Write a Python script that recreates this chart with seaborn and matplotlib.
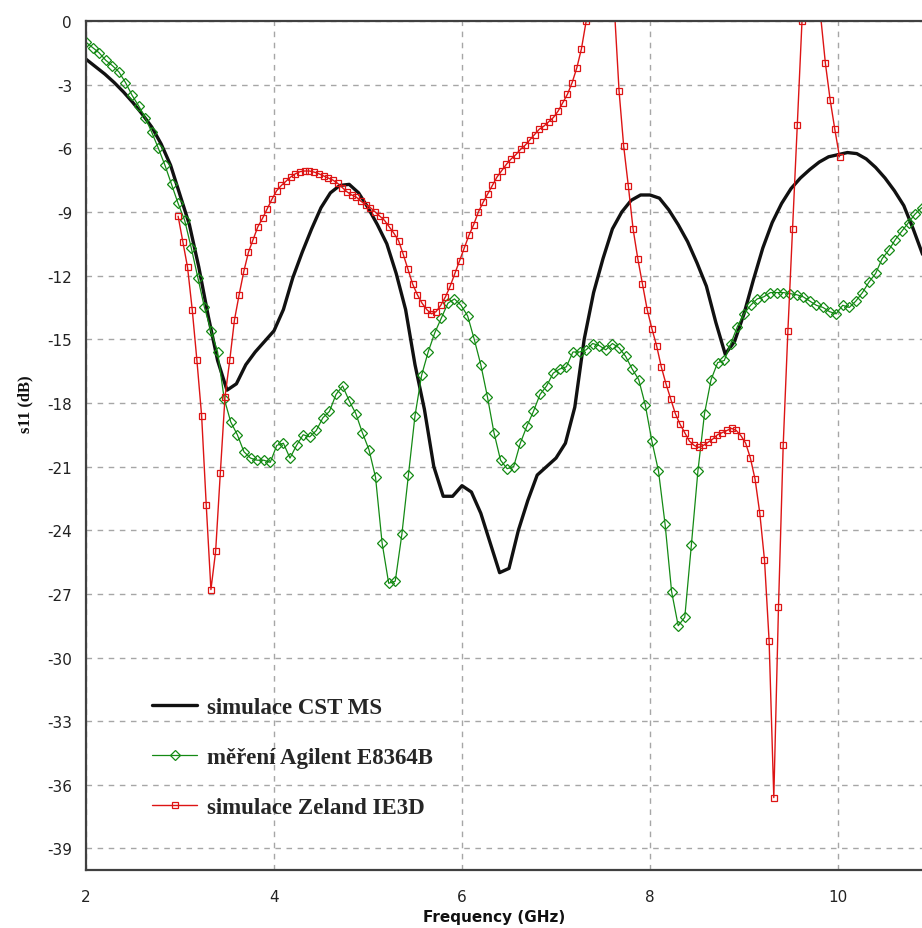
import numpy as np
import pandas as pd
import matplotlib
matplotlib.use("Agg")
import matplotlib.pyplot as plt
import seaborn as sns

# ---- data -------------------------------------------------------------
# CST MS simulation, sampled every 0.1 GHz
freq_cst = np.round(np.arange(2.0, 10.95, 0.1), 2)
s11_cst = [
    -1.8, -2.15, -2.5, -2.9, -3.35, -3.85, -4.4, -5.0, -5.8, -6.8,
    -8.2, -9.6, -11.6, -13.9, -16.0, -17.4, -17.1, -16.2, -15.6, -15.1,
    -14.6, -13.6, -12.1, -10.9, -9.8, -8.8, -8.1, -7.75, -7.7, -8.1,
    -8.8, -9.6, -10.5, -11.9, -13.6, -16.2, -18.3, -21.0, -22.4, -22.4,
    -21.9, -22.2, -23.2, -24.6, -26.0, -25.8, -24.0, -22.6, -21.4, -21.0,
    -20.6, -19.9, -18.2, -15.0, -12.8, -11.2, -9.8, -9.0, -8.45, -8.2,
    -8.2, -8.35, -8.9, -9.6, -10.4, -11.4, -12.5, -14.2, -15.7, -15.1,
    -13.8, -12.2, -10.7, -9.5, -8.6, -7.9, -7.4, -7.0, -6.65, -6.4,
    -6.3, -6.2, -6.25, -6.5, -6.9, -7.4, -8.0, -8.7, -9.8, -11.0,
]

# Agilent E8364B measurement, 0.07 GHz step
freq_meas = np.round(2.0 + 0.07 * np.arange(128), 3)
s11_meas = [
    -1.0, -1.25, -1.5, -1.85, -2.1, -2.4, -2.9, -3.5, -4.0, -4.55,
    -5.25, -6.0, -6.8, -7.7, -8.6, -9.4, -10.7, -12.1, -13.5, -14.6,
    -15.6, -17.8, -18.9, -19.5, -20.3, -20.6, -20.7, -20.7, -20.8, -20.0,
    -19.9, -20.6, -20.0, -19.5, -19.6, -19.3, -18.7, -18.4, -17.6, -17.2,
    -17.9, -18.5, -19.4, -20.2, -21.5, -24.6, -26.5, -26.4, -24.2, -21.4,
    -18.6, -16.7, -15.6, -14.7, -14.0, -13.3, -13.1, -13.4, -13.9, -15.0,
    -16.2, -17.7, -19.4, -20.7, -21.1, -21.0, -19.9, -19.1, -18.4, -17.6,
    -17.2, -16.6, -16.4, -16.3, -15.6, -15.6, -15.5, -15.2, -15.3, -15.5,
    -15.2, -15.4, -15.8, -16.4, -16.9, -18.1, -19.8, -21.2, -23.7, -26.9,
    -28.5, -28.1, -24.7, -21.2, -18.5, -16.9, -16.1, -16.0, -15.2, -14.4,
    -13.8, -13.4, -13.1, -13.0, -12.8, -12.8, -12.8, -12.85, -12.9, -13.0,
    -13.2, -13.4, -13.5, -13.7, -13.8, -13.4, -13.5, -13.2, -12.8, -12.3,
    -11.9, -11.2, -10.8, -10.3, -9.9, -9.5, -9.1, -8.8,
]

# Zeland IE3D simulation, ~0.05 GHz step
freq_ie3d = np.round(2.98 + 0.0499 * np.arange(142), 3)
s11_ie3d = [
    -9.2, -10.4, -11.6, -13.6, -16.0, -18.6, -22.8, -26.8, -25.0, -21.3,
    -17.7, -16.0, -14.1, -12.9, -11.8, -10.9, -10.3, -9.7, -9.3, -8.85,
    -8.4, -8.0, -7.75, -7.55, -7.35, -7.2, -7.1, -7.07, -7.07, -7.12,
    -7.2, -7.3, -7.4, -7.5, -7.65, -7.85, -8.05, -8.2, -8.3, -8.5,
    -8.65, -8.8, -9.0, -9.2, -9.4, -9.7, -10.0, -10.35, -11.0, -11.7,
    -12.4, -12.9, -13.3, -13.6, -13.8, -13.7, -13.4, -13.0, -12.5, -11.9,
    -11.3, -10.7, -10.1, -9.6, -9.0, -8.55, -8.15, -7.75, -7.35, -7.05,
    -6.75, -6.5, -6.3, -6.05, -5.85, -5.6, -5.35, -5.1, -4.95, -4.75,
    -4.55, -4.25, -3.85, -3.45, -2.9, -2.2, -1.3, 0.0, 1.6, 3.0,
    3.6, 3.2, 1.8, 0.6, -3.3, -5.9, -7.8, -9.8, -11.2, -12.4,
    -13.6, -14.5, -15.3, -16.3, -17.1, -17.8, -18.5, -19.0, -19.4, -19.8,
    -20.0, -20.1, -20.0, -19.85, -19.7, -19.5, -19.4, -19.3, -19.2, -19.3,
    -19.55, -19.9, -20.6, -21.6, -23.2, -25.4, -29.2, -36.6, -27.6, -20.0,
    -14.6, -9.8, -4.9, 0.0, 2.5, 3.8, 2.8, 0.2, -2.0, -3.7,
    -5.1, -6.4,
]

x_ticks = [2, 4, 6, 8, 10]
x_tick_labels = ["2", "4", "6", "8", "10"]
y_ticks = list(range(0, -40, -3))
y_tick_labels = [str(v) for v in y_ticks]

labels = ["simulace CST MS", "měření Agilent E8364B", "simulace Zeland IE3D"]

# ---- figure -----------------------------------------------------------
sns.set_theme(style="white")
plt.rcParams["font.family"] = ["DejaVu Sans"]
plt.rcParams["axes.unicode_minus"] = False

W, H = 922, 929
fig = plt.figure(figsize=(W / 100, H / 100), dpi=100)
fig.patch.set_facecolor("white")
left_px, right_px, top_px, bottom_px = 86, 922, 22, 870.7
ax = fig.add_axes([left_px / W, 1 - bottom_px / H,
                   (right_px - left_px) / W, (bottom_px - top_px) / H])
ax.set_facecolor("white")

df_cst = pd.DataFrame({"f": freq_cst, "s11": s11_cst})
df_meas = pd.DataFrame({"f": freq_meas, "s11": s11_meas})
df_ie3d = pd.DataFrame({"f": freq_ie3d, "s11": s11_ie3d})

sns.lineplot(data=df_cst, x="f", y="s11", ax=ax, color="#111111",
             linewidth=2.4, label=labels[0], errorbar=None, sort=False)
sns.lineplot(data=df_meas, x="f", y="s11", ax=ax, color="#148a14",
             linewidth=0.9, marker="D", markersize=5.4,
             markerfacecolor="none", markeredgecolor="#148a14",
             markeredgewidth=0.9, label=labels[1], errorbar=None, sort=False)
sns.lineplot(data=df_ie3d, x="f", y="s11", ax=ax, color="#dd1414",
             linewidth=1.0, marker="s", markersize=5.0,
             markerfacecolor="none", markeredgecolor="#dd1414",
             markeredgewidth=0.9, label=labels[2], errorbar=None, sort=False)

ax.set_xlim(2, 2 + (right_px - left_px) / 94.0)
ax.set_ylim(-40, 0)
ax.set_xticks(x_ticks, x_tick_labels)
ax.set_yticks(y_ticks, y_tick_labels)
ax.tick_params(axis="both", length=0, labelsize=11, labelcolor="#222222")
ax.tick_params(axis="x", pad=14)
ax.tick_params(axis="y", pad=10)

ax.grid(True, linestyle=(0, (4, 4)), color="#a6a6a6", linewidth=1.0)
ax.set_axisbelow(True)

for side in ("left", "bottom", "top"):
    ax.spines[side].set_visible(True)
    ax.spines[side].set_color("#404040")
    ax.spines[side].set_linewidth(1.6)
ax.spines["right"].set_visible(False)

ax.set_xlabel("Frequency (GHz)", fontsize=11, fontweight="bold",
              color="#111111")
ax.xaxis.set_label_coords(0.488, -0.046)
ax.set_ylabel("s11 (dB)", fontsize=12, fontweight="bold",
              family=["Liberation Serif"], color="#111111")
ax.yaxis.set_label_coords(-0.063, 0.55)

ax.legend(loc="upper left", bbox_to_anchor=(0.079, 0.203), frameon=False,
          prop={"family": "Liberation Serif", "weight": "bold", "size": 16.5},
          handlelength=1.97, handletextpad=0.44, labelspacing=1.25,
          borderpad=0, borderaxespad=0, numpoints=1)

fig.savefig("out.png", dpi=100, facecolor="white")
